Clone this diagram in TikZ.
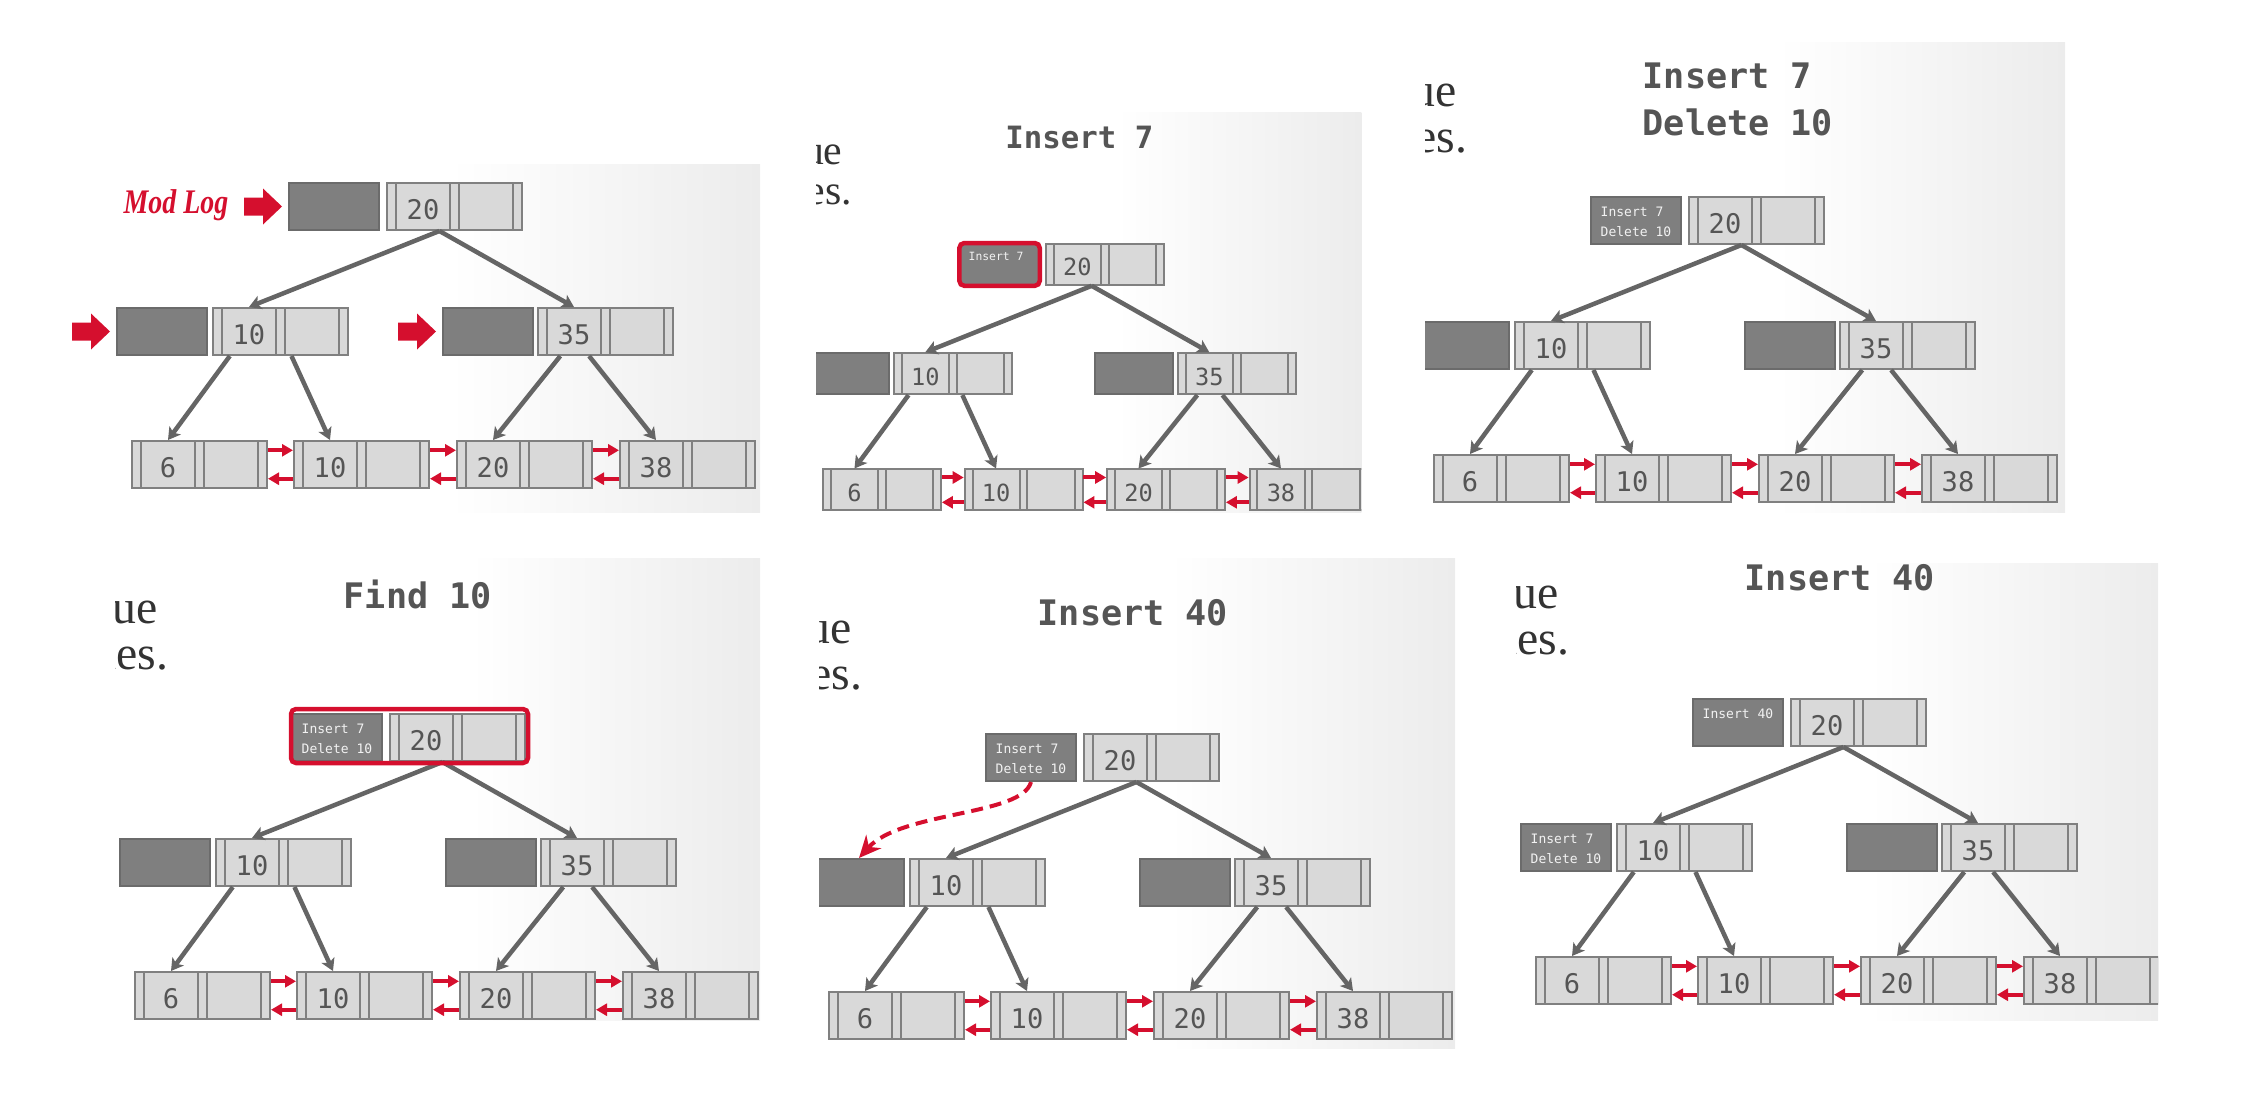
\documentclass[tikz,border=0pt]{standalone}
\usepackage{fontspec}
\usetikzlibrary{calc,arrows.meta}

\newfontfamily\monofont{DejaVu Sans Mono}
\newfontfamily\slidefont{Liberation Serif}
\newfontfamily\modfont[FakeStretch=0.81]{Liberation Serif}

\definecolor{keyfill}{HTML}{D9D9D9}
\definecolor{keyline}{HTML}{808080}
\definecolor{keytext}{HTML}{555555}
\definecolor{logfill}{HTML}{7F7F7F}
\definecolor{logline}{HTML}{6B6B6B}
\definecolor{logtext}{HTML}{F2F2F2}
\definecolor{edgegray}{HTML}{656565}
\definecolor{modred}{HTML}{D50F2E}
\definecolor{titlegray}{HTML}{555555}
\definecolor{slidegray}{HTML}{333333}
\definecolor{panelgray}{HTML}{ECECEC}

% key cell of a node: left strip, key, rest of the node
\newcommand\keycell[1]{\hspace*{0.9mm}\makebox[5.4mm]{#1}\hspace*{7.2mm}}

\tikzset{
  keybox/.style={draw=keyline, fill=keyfill, line width=0.2mm,
    minimum width=13.5mm, minimum height=4.7mm, inner sep=0pt,
    text height=2.6mm, text depth=0pt, anchor=north west,
    font=\monofont\fontsize{7.7}{8}\selectfont, text=keytext,
    path picture={
      \foreach \f in {0.067,0.467,0.533,0.933}
        \draw [keyline, line width=0.2mm]
          ($ (path picture bounding box.south west) ! \f ! (path picture bounding box.south east) $)
          -- ($ (path picture bounding box.north west) ! \f ! (path picture bounding box.north east) $);
    }},
  logbox/.style={draw=logline, fill=logfill, line width=0.2mm,
    minimum width=9mm, minimum height=4.7mm, inner sep=0pt, anchor=north west},
  logmsg/.style={anchor=north west, inner sep=1mm, align=left, text=logtext,
    font=\monofont\fontsize{3.7}{5.7}\selectfont},
  treeedge/.style={draw=edgegray, line width=0.45mm,
    -{Stealth[length=1.2mm, width=1.4mm, inset=0.3mm]}},
  leaflink/.style={draw=modred, line width=0.4mm, -{Triangle[length=1.1mm, width=1.2mm]}},
  slidetitle/.style={anchor=north west, inner sep=0pt, align=left, text=titlegray,
    font=\monofont\bfseries\fontsize{10}{13.4}\selectfont},
  slidetext/.style={anchor=base east, inner sep=0pt, text=slidegray,
    font=\slidefont\fontsize{13.6}{16}\selectfont},
  modlog/.style={anchor=base east, inner sep=0pt, text=modred,
    font=\modfont\bfseries\itshape\fontsize{9.8}{11}\selectfont},
  logpointer/.style={draw=modred, line width=0.4mm, dash pattern=on 1.2mm off 0.7mm,
    -{Stealth[length=2.2mm, width=2mm]}},
  hilite/.style={draw=modred, line width=0.45mm, rounded corners=0.5mm}
}

\begin{document}
\begin{tikzpicture}[x=0.1mm, y=-0.1mm]
  \useasboundingbox (0,0) rectangle (2264,1110);

  % one screenshot of the tree per panel
  \foreach \p/\rx/\ry/\s/\ca/\cb/\cc/\cd/\ttl/\rmsg/\lmsg in {
      a/386/182/1/-316/-18/374/330/{}/{}/{},
      b/1045/243/0.874/-262/-149/362/308/{Insert 7}/{Insert 7}/{},
      c/1688/196/1/-263/-154/377/316/{Insert 7\\Delete 10}/{Insert 7\\Delete 10}/{},
      d/389/713/1/-274/-155/371/307/{Find 10}/{Insert 7\\Delete 10}/{},
      e/1083/733/1/-264/-175/372/315/{Insert 40}/{Insert 7\\Delete 10}/{},
      f/1790/698/1/-274/-135/368/322/{Insert 40}/{Insert 40}/{Insert 7\\Delete 10}}
  {
    \begin{scope}[shift={(\rx,\ry)}, scale=\s, transform shape]
      \clip (\ca,\cb) rectangle (\cc,\cd);
      \shade [left color=white, right color=panelgray]
        ($ (\ca,\cb) ! 0.55 ! (\cc,\cb) $) rectangle (\cc,\cd);

      % what is left of the slide text and the title
      \node [slidetext] (\p textA) at (-231,-90) {lue};
      \node [slidetext] (\p textB) at (-220,-44) {des.};
      \node [slidetitle] (\p title) at (-46,-134) {\ttl};

      % the nodes and their mod logs
      \node [logbox] (\p rootlog) at (-98,0) {};
      \node [logmsg] (\p rootmsg) at (\p rootlog.north west) {\rmsg};
      \node [keybox] (\p root) at (0,0) {\keycell{20}};
      \node [logbox] (\p log10) at (-270,125) {};
      \node [logmsg] (\p msg10) at (\p log10.north west) {\lmsg};
      \node [keybox] (\p n10) at (-174,125) {\keycell{10}};
      \node [logbox] (\p log35) at (56,125) {};
      \node [keybox] (\p n35) at (151,125) {\keycell{35}};
      \foreach \j/\lx/\lk in {1/-255/6, 2/-93/10, 3/70/20, 4/233/38}
        \node [keybox] (\p leaf\j) at (\lx,258) {\keycell{\lk}};

      % the pointers
      \draw [treeedge] ($ (\p root.south west) ! 0.39 ! (\p root.south east) $)
        -- ($ (\p n10.north west) ! 0.27 ! (\p n10.north east) $);
      \draw [treeedge] ($ (\p root.south west) ! 0.39 ! (\p root.south east) $)
        -- ($ (\p n35.north west) ! 0.27 ! (\p n35.north east) $);
      \draw [treeedge] ($ (\p n10.south west) ! 0.13 ! (\p n10.south east) $)
        -- ($ (\p leaf1.north west) ! 0.27 ! (\p leaf1.north east) $);
      \draw [treeedge] ($ (\p n10.south west) ! 0.58 ! (\p n10.south east) $)
        -- ($ (\p leaf2.north west) ! 0.27 ! (\p leaf2.north east) $);
      \draw [treeedge] ($ (\p n35.south west) ! 0.17 ! (\p n35.south east) $)
        -- ($ (\p leaf3.north west) ! 0.27 ! (\p leaf3.north east) $);
      \draw [treeedge] ($ (\p n35.south west) ! 0.38 ! (\p n35.south east) $)
        -- ($ (\p leaf4.north west) ! 0.27 ! (\p leaf4.north east) $);

      % sibling links between the leaves
      \foreach \j [count=\jj from 2] in {1,2,3} {
        \draw [leaflink] ($ (\p leaf\j.north east) ! 0.21 ! (\p leaf\j.south east) $)
          -- ($ (\p leaf\jj.north west) ! 0.21 ! (\p leaf\jj.south west) $);
        \draw [leaflink] ($ (\p leaf\jj.north west) ! 0.79 ! (\p leaf\jj.south west) $)
          -- ($ (\p leaf\j.north east) ! 0.79 ! (\p leaf\j.south east) $);
      }
    \end{scope}
  }

  % point out the mod logs in the first panel
  \node [modlog] (modlog) at ($ (arootlog.west) + (-59,7) $) {Mod Log};
  \foreach \n in {arootlog, alog10, alog35}
    \fill [modred] ($ (\n.west) + (-6,0) $) -- +(-19,-18) -- +(-19,-9) -- +(-38,-9)
      -- +(-38,9) -- +(-19,9) -- +(-19,18) -- cycle;

  % the log that changed, the node that is read, the log that moves down
  \draw [hilite] (brootlog.north west) rectangle (brootlog.south east);
  \draw [hilite]
    ($ (drootlog.north west) + (0,-4) $) rectangle ($ (droot.south east) + (2,1) $);
  \draw [logpointer] (erootlog.south) .. controls +(-9,34) and +(42,-47) .. (elog10.north);
\end{tikzpicture}
\end{document}
